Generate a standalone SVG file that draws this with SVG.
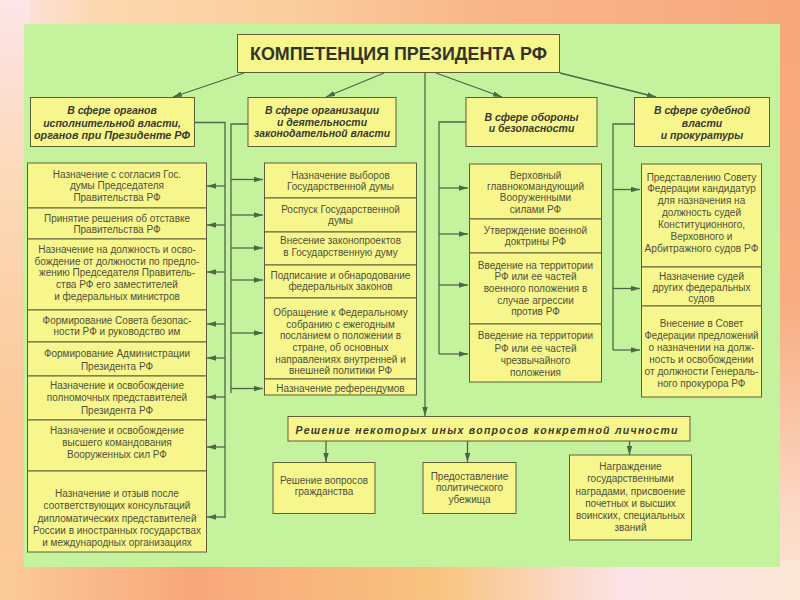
<svg xmlns="http://www.w3.org/2000/svg" width="800" height="600" viewBox="0 0 800 600">
<defs>
<linearGradient id="gTop" x1="0" y1="0" x2="1" y2="0">
<stop offset="0" stop-color="#fde5e8"/><stop offset="0.12" stop-color="#fcd8b0"/><stop offset="0.35" stop-color="#fbcf9e"/><stop offset="0.6" stop-color="#f9b68a"/><stop offset="1" stop-color="#f7a77c"/>
</linearGradient>
<linearGradient id="gBot" x1="0" y1="0" x2="1" y2="0">
<stop offset="0" stop-color="#fbcb98"/><stop offset="0.24" stop-color="#f8a77b"/><stop offset="0.55" stop-color="#f8c47f"/><stop offset="0.78" stop-color="#fce3e8"/><stop offset="1" stop-color="#fbe7d6"/>
</linearGradient>
<linearGradient id="gLeft" x1="0" y1="0" x2="0" y2="1">
<stop offset="0" stop-color="#fde5e8"/><stop offset="0.3" stop-color="#fcd9b8"/><stop offset="0.7" stop-color="#fbc99a"/><stop offset="1" stop-color="#fbcb98"/>
</linearGradient>
<linearGradient id="gRight" x1="0" y1="0" x2="0" y2="1">
<stop offset="0" stop-color="#f7a77c"/><stop offset="0.5" stop-color="#f8ac80"/><stop offset="0.85" stop-color="#fbd8c4"/><stop offset="1" stop-color="#fbe7d6"/>
</linearGradient>
<marker id="ar" viewBox="0 0 10 6" refX="10" refY="3" markerWidth="9" markerHeight="5.5" orient="auto" markerUnits="userSpaceOnUse">
<path d="M0,0 L10,3 L0,6 z" fill="#4f6648"/>
</marker>
<style>
.box{fill:#f6f68c;stroke:#5e5e3c;stroke-width:1}
.t{font-family:"Liberation Sans",Arial,sans-serif;font-size:10px;fill:#505040;text-anchor:middle}
.h{font-family:"Liberation Sans",Arial,sans-serif;font-size:10.5px;font-weight:bold;font-style:italic;fill:#3a3a30;text-anchor:middle}
.ti{font-family:"Liberation Sans",Arial,sans-serif;font-size:18px;fill:#333328;text-anchor:middle}
.c{stroke:#4f6648;stroke-width:1.3;fill:none}
.ca{stroke:#4f6648;stroke-width:1.3;fill:none;marker-end:url(#ar)}
</style>
</defs>

<rect x="0" y="0" width="800" height="600" fill="url(#gTop)"/>
<rect x="0" y="0" width="30" height="600" fill="url(#gLeft)"/>
<rect x="772" y="0" width="28" height="600" fill="url(#gRight)"/>
<rect x="0" y="560" width="800" height="40" fill="url(#gBot)"/>
<rect x="24" y="24" width="756" height="543" fill="#c5f29c"/>

<g id="connectors">
<line class="ca" x1="244" y1="73" x2="173" y2="97"/>
<line class="ca" x1="384" y1="73" x2="326" y2="97"/>
<line class="ca" x1="436" y1="73" x2="502" y2="97"/>
<line class="ca" x1="560" y1="73" x2="656" y2="97"/>
<line class="ca" x1="425" y1="73" x2="425" y2="416"/>

<polyline class="c" points="194,122.5 225,122.5 225,518"/>
<line class="ca" x1="225" y1="186" x2="207" y2="186"/>
<line class="ca" x1="225" y1="225" x2="207" y2="225"/>
<line class="ca" x1="225" y1="272" x2="207" y2="272"/>
<line class="ca" x1="225" y1="324" x2="207" y2="324"/>
<line class="ca" x1="225" y1="358" x2="207" y2="358"/>
<line class="ca" x1="225" y1="397" x2="207" y2="397"/>
<line class="ca" x1="225" y1="447" x2="207" y2="447"/>
<line class="ca" x1="225" y1="517" x2="207" y2="517"/>

<polyline class="c" points="248,124 231,124 231,393"/>
<line class="ca" x1="231" y1="179.5" x2="263" y2="179.5"/>
<line class="ca" x1="231" y1="215" x2="263" y2="215"/>
<line class="ca" x1="231" y1="248" x2="263" y2="248"/>
<line class="ca" x1="231" y1="280" x2="263" y2="280"/>
<line class="ca" x1="231" y1="333" x2="263" y2="333"/>
<line class="ca" x1="231" y1="388.5" x2="263" y2="388.5"/>

<polyline class="c" points="466,122 439,122 439,354"/>
<line class="ca" x1="439" y1="188" x2="468" y2="188"/>
<line class="ca" x1="439" y1="234" x2="468" y2="234"/>
<line class="ca" x1="439" y1="285" x2="468" y2="285"/>
<line class="ca" x1="439" y1="354" x2="468" y2="354"/>

<polyline class="c" points="634,124 613,124 613,350"/>
<line class="ca" x1="613" y1="189.5" x2="640" y2="189.5"/>
<line class="ca" x1="613" y1="288.5" x2="640" y2="288.5"/>
<line class="ca" x1="613" y1="350" x2="640" y2="350"/>

<line class="ca" x1="326" y1="441" x2="326" y2="462"/>
<line class="ca" x1="467.5" y1="441" x2="467.5" y2="462"/>
<line class="ca" x1="629.5" y1="441" x2="629.5" y2="455"/>
</g>

<g id="title">
<rect class="box" x="237.5" y="34.5" width="322" height="38"/>
<text class="ti" x="398.5" y="60" textLength="297" lengthAdjust="spacingAndGlyphs" font-weight="bold">КОМПЕТЕНЦИЯ ПРЕЗИДЕНТА РФ</text>
</g>

<g id="h1">
<rect class="box" x="30.5" y="97.5" width="164" height="49"/>
<text class="h"><tspan x="112" y="114">В сфере органов</tspan><tspan x="112" y="126.7">исполнительной власти,</tspan><tspan x="112" y="139.4" textLength="156" lengthAdjust="spacingAndGlyphs">органов при Президенте РФ</tspan></text>
</g>
<g id="h2">
<rect class="box" x="248" y="97.5" width="148" height="49"/>
<text class="h"><tspan x="322" y="114">В сфере организации</tspan><tspan x="322" y="125.7">и деятельности</tspan><tspan x="322" y="137.4" textLength="136" lengthAdjust="spacingAndGlyphs">законодательной власти</tspan></text>
</g>
<g id="h3">
<rect class="box" x="466" y="97.5" width="131" height="49"/>
<text class="h"><tspan x="531.5" y="120.7">В сфере обороны</tspan><tspan x="531.5" y="132.3">и безопасности</tspan></text>
</g>
<g id="h4">
<rect class="box" x="634.5" y="97.5" width="135" height="49"/>
<text class="h"><tspan x="702" y="114">В сфере судебной</tspan><tspan x="702" y="126.7">власти</tspan><tspan x="702" y="139.4">и прокуратуры</tspan></text>
</g>

<g id="l1">
<rect class="box" x="27.5" y="163" width="179" height="45"/>
<text class="t"><tspan x="117" y="177.5">Назначение с согласия Гос.</tspan><tspan x="117" y="189">думы Председателя</tspan><tspan x="117" y="200.5">Правительства РФ</tspan></text>
</g>
<g id="l2">
<rect class="box" x="27.5" y="208" width="179" height="31"/>
<text class="t"><tspan x="117" y="221.8">Принятие решения об отставке</tspan><tspan x="117" y="233.3">Правительства РФ</tspan></text>
</g>
<g id="l3">
<rect class="box" x="27.5" y="239" width="179" height="71"/>
<text class="t"><tspan x="117" y="252.8">Назначение на должность и осво-</tspan><tspan x="117" y="264.5">бождение от должности по предло-</tspan><tspan x="117" y="276.2">жению Председателя Правитель-</tspan><tspan x="117" y="287.9">ства РФ его заместителей</tspan><tspan x="117" y="299.6">и федеральных министров</tspan></text>
</g>
<g id="l4">
<rect class="box" x="27.5" y="310" width="179" height="32"/>
<text class="t"><tspan x="117" y="323.5">Формирование Совета безопас-</tspan><tspan x="117" y="335.2">ности РФ и руководство им</tspan></text>
</g>
<g id="l5">
<rect class="box" x="27.5" y="342" width="179" height="34"/>
<text class="t"><tspan x="117" y="356.8">Формирование Администрации</tspan><tspan x="117" y="369.5">Президента РФ</tspan></text>
</g>
<g id="l6">
<rect class="box" x="27.5" y="376" width="179" height="44"/>
<text class="t"><tspan x="117" y="388.5">Назначение и освобождение</tspan><tspan x="117" y="400.8">полномочных представителей</tspan><tspan x="117" y="413.5">Президента РФ</tspan></text>
</g>
<g id="l7">
<rect class="box" x="27.5" y="420" width="179" height="51"/>
<text class="t"><tspan x="117" y="434.2">Назначение и освобождение</tspan><tspan x="117" y="445.8">высшего командования</tspan><tspan x="117" y="457.5">Вооруженных сил РФ</tspan></text>
</g>
<g id="l8">
<rect class="box" x="27.5" y="471" width="179" height="81"/>
<text class="t"><tspan x="117" y="496.5">Назначение и отзыв после</tspan><tspan x="117" y="509.2">соответствующих консультаций</tspan><tspan x="117" y="521.8">дипломатических представителей</tspan><tspan x="117" y="534.2">России в иностранных государствах</tspan><tspan x="117" y="545.8">и международных организациях</tspan></text>
</g>

<g id="m1">
<rect class="box" x="264.5" y="163" width="152" height="35"/>
<text class="t"><tspan x="340.5" y="178.5">Назначение выборов</tspan><tspan x="340.5" y="190">Государственной думы</tspan></text>
</g>
<g id="m2">
<rect class="box" x="264.5" y="198" width="152" height="34"/>
<text class="t"><tspan x="340.5" y="212.8">Роспуск Государственной</tspan><tspan x="340.5" y="224.3">думы</tspan></text>
</g>
<g id="m3">
<rect class="box" x="264.5" y="232" width="152" height="33"/>
<text class="t"><tspan x="340.5" y="244.2">Внесение законопроектов</tspan><tspan x="340.5" y="256.2">в Государственную думу</tspan></text>
</g>
<g id="m4">
<rect class="box" x="264.5" y="265" width="152" height="33"/>
<text class="t"><tspan x="340.5" y="278.5">Подписание и обнародование</tspan><tspan x="340.5" y="290.2">федеральных законов</tspan></text>
</g>
<g id="m5">
<rect class="box" x="264.5" y="298" width="152" height="81"/>
<text class="t"><tspan x="340.5" y="316.2">Обращение к Федеральному</tspan><tspan x="340.5" y="327.7">собранию с ежегодным</tspan><tspan x="340.5" y="339.2">посланием о положении в</tspan><tspan x="340.5" y="350.9">стране, об основных</tspan><tspan x="340.5" y="362.5">направлениях внутренней и</tspan><tspan x="340.5" y="374.2">внешней политики РФ</tspan></text>
</g>
<g id="m6">
<rect class="box" x="264.5" y="379" width="152" height="16"/>
<text class="t"><tspan x="340.5" y="391.5">Назначение референдумов</tspan></text>
</g>

<g id="d1">
<rect class="box" x="469.5" y="164" width="132" height="55"/>
<text class="t"><tspan x="535.5" y="178.5">Верховный</tspan><tspan x="535.5" y="189.9">главнокомандующий</tspan><tspan x="535.5" y="201.3">Вооруженными</tspan><tspan x="535.5" y="212.7">силами РФ</tspan></text>
</g>
<g id="d2">
<rect class="box" x="469.5" y="219" width="132" height="34"/>
<text class="t"><tspan x="535.5" y="233.5">Утверждение военной</tspan><tspan x="535.5" y="245">доктрины РФ</tspan></text>
</g>
<g id="d3">
<rect class="box" x="469.5" y="253" width="132" height="71"/>
<text class="t"><tspan x="535.5" y="268.5">Введение на территории</tspan><tspan x="535.5" y="280.2">РФ или ее частей</tspan><tspan x="535.5" y="291.9">военного положения в</tspan><tspan x="535.5" y="303.6">случае агрессии</tspan><tspan x="535.5" y="315.3">против РФ</tspan></text>
</g>
<g id="d4">
<rect class="box" x="469.5" y="324" width="132" height="58"/>
<text class="t"><tspan x="535.5" y="339.2">Введение на территории</tspan><tspan x="535.5" y="351.5">РФ или ее частей</tspan><tspan x="535.5" y="363.8">чрезвычайного</tspan><tspan x="535.5" y="376.1">положения</tspan></text>
</g>

<g id="j1">
<rect class="box" x="641.5" y="164" width="120" height="103"/>
<text class="t"><tspan x="701.5" y="180.5">Представлению Совету</tspan><tspan x="701.5" y="192.4">Федерации кандидатур</tspan><tspan x="701.5" y="204.3">для назначения на</tspan><tspan x="701.5" y="216.2">должность судей</tspan><tspan x="701.5" y="228.1">Конституционного,</tspan><tspan x="701.5" y="240">Верховного и</tspan><tspan x="701.5" y="251.9" textLength="114" lengthAdjust="spacingAndGlyphs">Арбитражного судов РФ</tspan></text>
</g>
<g id="j2">
<rect class="box" x="641.5" y="267" width="120" height="39"/>
<text class="t"><tspan x="701.5" y="280.2">Назначение судей</tspan><tspan x="701.5" y="291">других федеральных</tspan><tspan x="701.5" y="301.8">судов</tspan></text>
</g>
<g id="j3">
<rect class="box" x="641.5" y="306" width="120" height="91"/>
<text class="t"><tspan x="701.5" y="326.8">Внесение в Совет</tspan><tspan x="701.5" y="338.8" textLength="114" lengthAdjust="spacingAndGlyphs">Федерации предложений</tspan><tspan x="701.5" y="350.8">о назначении на долж-</tspan><tspan x="701.5" y="362.8">ность и освобождении</tspan><tspan x="701.5" y="374.8" textLength="114" lengthAdjust="spacingAndGlyphs">от должности Генераль-</tspan><tspan x="701.5" y="386.8">ного прокурора РФ</tspan></text>
</g>

<g id="other">
<rect class="box" x="288" y="416.5" width="402" height="24.5"/>
<text class="h" x="486.5" y="433.5" font-size="12.5" textLength="382" lengthAdjust="spacing">Решение некоторых иных вопросов конкретной личности</text>
</g>
<g id="s1">
<rect class="box" x="273" y="462.5" width="102" height="51"/>
<text class="t"><tspan x="324" y="484">Решение вопросов</tspan><tspan x="324" y="495">гражданства</tspan></text>
</g>
<g id="s2">
<rect class="box" x="423" y="462.5" width="93" height="51"/>
<text class="t"><tspan x="469.5" y="479.5">Предоставление</tspan><tspan x="469.5" y="491">политического</tspan><tspan x="469.5" y="502.5">убежища</tspan></text>
</g>
<g id="s3">
<rect class="box" x="569.5" y="455" width="122" height="85"/>
<text class="t"><tspan x="630.5" y="470.2">Награждение</tspan><tspan x="630.5" y="482.4">государственными</tspan><tspan x="630.5" y="494.6">наградами, присвоение</tspan><tspan x="630.5" y="506.8">почетных и высших</tspan><tspan x="630.5" y="519">воинских, специальных</tspan><tspan x="630.5" y="531.2">званий</tspan></text>
</g>
</svg>
